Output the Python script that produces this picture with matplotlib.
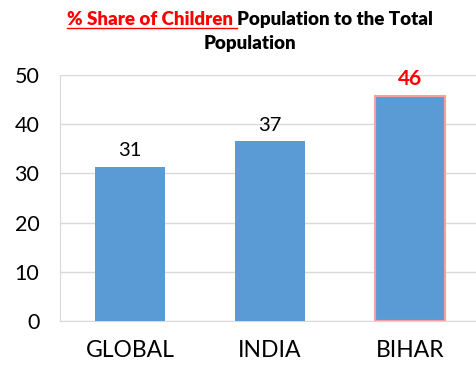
import matplotlib
matplotlib.use('Agg')
import matplotlib.pyplot as plt
from matplotlib.lines import Line2D

regions = ['GLOBAL', 'INDIA', 'BIHAR']
share = [31.4, 36.6, 45.8]
yticks = [0, 10, 20, 30, 40, 50]

plt.rcParams['font.family'] = ['Lato', 'DejaVu Sans']

fig = plt.figure(figsize=(4.77, 3.66), dpi=100)
ax = fig.add_axes([0.126, 0.123, 0.88, 0.672])

x = range(len(regions))
bars = ax.bar(x, share, width=0.5, color='#5b9bd5', zorder=3)
bars[2].set_edgecolor('#f4a0a0')
bars[2].set_linewidth(1.5)

for i, v in enumerate(share):
    if regions[i] == 'BIHAR':
        ax.text(i, v + 1.4, f'{v:.0f}', ha='center', va='bottom',
                fontsize=15, color='#ff0000', fontweight='bold')
    else:
        ax.text(i, v + 1.5, f'{v:.0f}', ha='center', va='bottom',
                fontsize=14.5, color='black')

ax.set_xlim(-0.5, 2.5)
ax.set_ylim(0, 50)
ax.set_yticks(yticks)
ax.set_xticks(list(x))
ax.set_xticklabels(regions, fontsize=16.5)
ax.tick_params(axis='y', labelsize=15.5, length=0, pad=15)
ax.tick_params(axis='x', length=0, pad=14)
ax.grid(axis='y', color='#d9d9d9', linewidth=1, zorder=0)
for s in ['top', 'right']:
    ax.spines[s].set_visible(False)
for s in ['left', 'bottom']:
    ax.spines[s].set_color('#d9d9d9')

# title: red underlined part + black part, centred together
renderer = fig.canvas.get_renderer()
t1 = fig.text(0, 0.932, '% Share of Children ', fontsize=13.5, fontweight='heavy',
              color='#ff0000', ha='left', va='baseline')
t2 = fig.text(0, 0.932, 'Population to the Total', fontsize=13.5, fontweight='heavy',
              color='black', ha='left', va='baseline')
w1 = t1.get_window_extent(renderer).width
w2 = t2.get_window_extent(renderer).width
W = fig.bbox.width
cx = 0.524
x0 = cx - (w1 + w2) / 2 / W
t1.set_x(x0)
t2.set_x(x0 + w1 / W)
fig.add_artist(Line2D([x0, x0 + w1 / W], [0.924, 0.924], color='#ff0000',
                      linewidth=1, transform=fig.transFigure))
fig.text(cx, 0.865, 'Population', fontsize=13.5, fontweight='heavy',
         color='black', ha='center', va='baseline')

fig.savefig('out.png', dpi=100)
